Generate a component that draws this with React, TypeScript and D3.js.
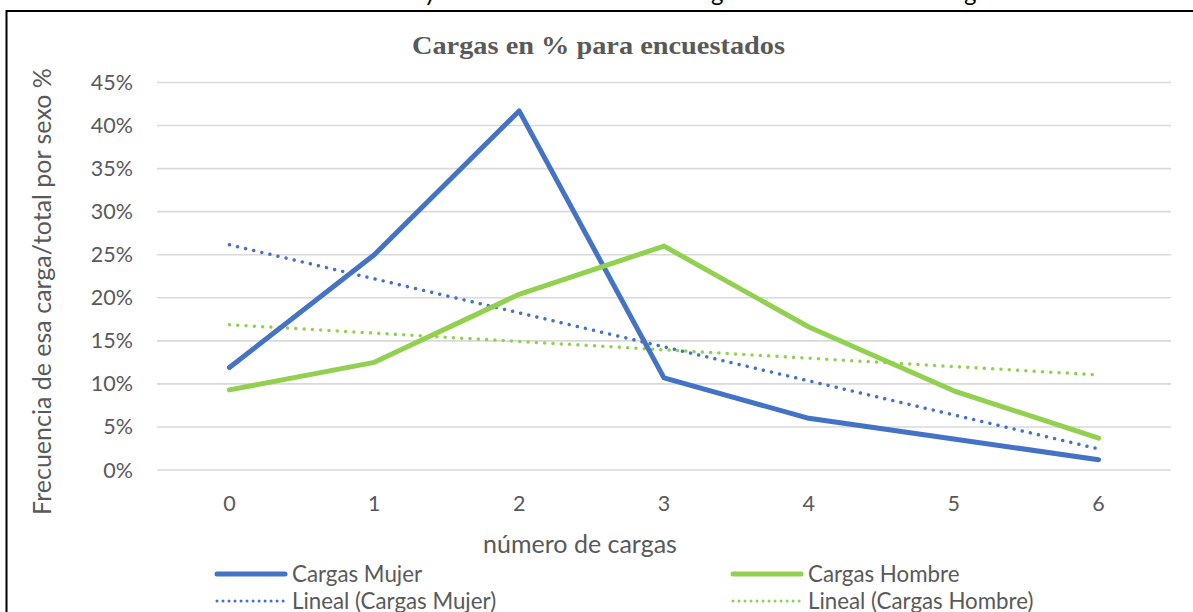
import React from "react";
import * as d3 from "d3";

const categories = ["0", "1", "2", "3", "4", "5", "6"];
const mujer = [11.9, 25.0, 41.7, 10.7, 6.0, 3.6, 1.2];
const hombre = [9.3, 12.5, 20.4, 26.0, 16.6, 9.2, 3.7];
const yTicks = [0, 5, 10, 15, 20, 25, 30, 35, 40, 45];
const title = "Cargas en % para encuestados";
const xTitle = "número de cargas";
const yTitle = "Frecuencia de esa carga/total por sexo %";
const legendItems = [
  { label: "Cargas Mujer", color: "#4472C4", dotted: false },
  { label: "Cargas Hombre", color: "#92D050", dotted: false },
  { label: "Lineal (Cargas Mujer)", color: "#4472C4", dotted: true },
  { label: "Lineal (Cargas Hombre)", color: "#92D050", dotted: true },
];

function linearFit(vals: number[]) {
  const n = vals.length;
  const xs = vals.map((_, i) => i);
  const mx = d3.mean(xs) as number;
  const my = d3.mean(vals) as number;
  let sxy = 0, sxx = 0;
  xs.forEach((x, i) => { sxy += (x - mx) * (vals[i] - my); sxx += (x - mx) * (x - mx); });
  const slope = sxy / sxx;
  const b = my - slope * mx;
  return [0, n - 1].map((x) => ({ x, y: b + slope * x }));
}

export default function App() {
  const W = 1193, H = 612;
  const left = 157, right = 1171, top = 82.5, bottom = 470;
  const x = d3.scaleBand<string>().domain(categories).range([left, right]);
  const y = d3.scaleLinear().domain([0, 45]).range([bottom, top]);
  const cx = (i: number) => (x(categories[i]) as number) + x.bandwidth() / 2;
  const line = d3.line<number>().x((_, i) => cx(i)).y((d) => y(d));
  const tline = d3.line<{ x: number; y: number }>().x((d) => cx(d.x)).y((d) => y(d.y));
  const grey = "#595959";
  const font = "Lato, 'Open Sans', sans-serif";
  const dots = { strokeDasharray: "0.01 8.3", strokeLinecap: "round" as const, strokeWidth: 3.5 };

  const legendPos = [
    { x: 215, y: 574 },
    { x: 731, y: 574 },
    { x: 215, y: 601 },
    { x: 731, y: 601 },
  ];

  return (
    <svg width={W} height={H} style={{ position: "absolute", left: 0, top: 0, background: "#fff" }}>
      <rect x={0} y={0} width={W} height={H} fill="#fff" />
      {/* clipped caption fragments above the chart */}
      <g fontFamily={font} fontSize={24} fill="#000">
        <text x={424} y={1}>y</text>
        <text x={711} y={1}>g</text>
        <text x={964} y={1}>g</text>
      </g>
      <rect x={6.5} y={11} width={W + 20} height={H + 20} fill="#fff" stroke="#000" strokeWidth={2} />
      <text x={412} y={54} textLength={373} lengthAdjust="spacingAndGlyphs" fontFamily="'Liberation Serif', serif" fontWeight="bold" fontSize={25} fill={grey}>{title}</text>
      {yTicks.map((t) => (
        <g key={t}>
          <line x1={left} x2={right} y1={y(t)} y2={y(t)} stroke="#D9D9D9" strokeWidth={1.6} />
          <text x={133} y={y(t)} dy="0.35em" textAnchor="end" fontFamily={font} fontSize={21.5} fill={grey}>{t + "%"}</text>
        </g>
      ))}
      {categories.map((c, i) => (
        <text key={c} x={cx(i)} y={503} dy="0.35em" textAnchor="middle" fontFamily={font} fontSize={21.5} fill={grey}>{c}</text>
      ))}
      <text x={580} y={544} dy="0.35em" textAnchor="middle" fontFamily={font} fontSize={25} fill={grey}>{xTitle}</text>
      <text transform={`translate(42,${291.5}) rotate(-90)`} dy="0.35em" textAnchor="middle" fontFamily={font} fontSize={25} fill={grey}>{yTitle}</text>
      <path d={tline(linearFit(mujer)) as string} fill="none" stroke="#4472C4" {...dots} />
      <path d={tline(linearFit(hombre)) as string} fill="none" stroke="#92D050" {...dots} />
      <path d={line(mujer) as string} fill="none" stroke="#4472C4" strokeWidth={5} strokeLinecap="round" strokeLinejoin="round" />
      <path d={line(hombre) as string} fill="none" stroke="#92D050" strokeWidth={5} strokeLinecap="round" strokeLinejoin="round" />
      {legendItems.map((it, i) => {
        const p = legendPos[i];
        return (
          <g key={it.label}>
            {it.dotted ? (
              <line x1={p.x + 2} x2={p.x + 70} y1={p.y} y2={p.y} stroke={it.color} {...dots} strokeDasharray="0.01 6" strokeWidth={3} />
            ) : (
              <line x1={p.x + 2} x2={p.x + 70} y1={p.y} y2={p.y} stroke={it.color} strokeWidth={5} strokeLinecap="round" />
            )}
            <text x={p.x + 77} y={p.y} dy="0.35em" fontFamily={font} fontSize={22.3} fill={grey}>{it.label}</text>
          </g>
        );
      })}
    </svg>
  );
}
